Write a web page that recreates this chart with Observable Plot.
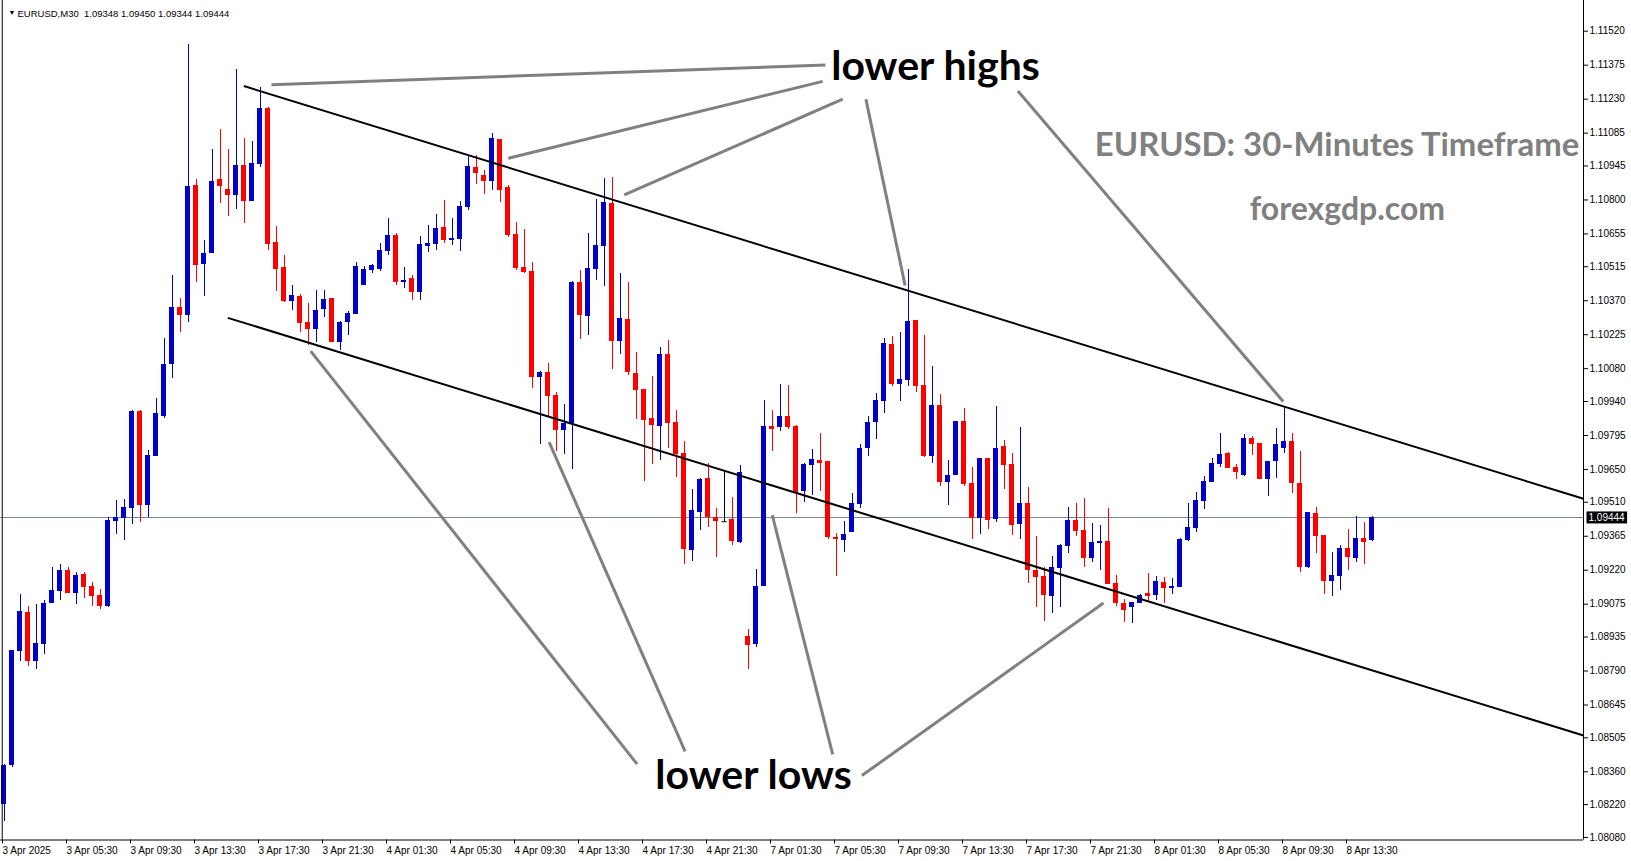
<!DOCTYPE html>
<html><head><meta charset="utf-8">
<script src="https://cdn.jsdelivr.net/npm/d3@7"></script>
<script src="https://cdn.jsdelivr.net/npm/@observablehq/plot@0.6"></script>
<style>
html,body{margin:0;padding:0;background:#fff;}
#chart{width:1631px;height:861px;overflow:hidden;}
</style></head><body><div id="chart"></div>
<script>
const symbol = "EURUSD,M30";
const open = [1.08219,1.08388,1.08874,1.09040,1.08830,1.08905,1.09076,1.09131,1.09218,1.09122,1.09202,1.09150,1.09112,1.09066,1.09430,1.09442,1.09485,1.09898,1.09496,1.09706,1.09876,1.10096,1.10341,1.10308,1.10862,1.10526,1.10573,1.10887,1.10845,1.10820,1.10947,1.10795,1.10953,1.11190,1.10618,1.10512,1.10368,1.10388,1.10277,1.10246,1.10334,1.10379,1.10193,1.10275,1.10312,1.10433,1.10500,1.10504,1.10582,1.10650,1.10446,1.10466,1.10403,1.10603,1.10612,1.10683,1.10629,1.10633,1.10766,1.10939,1.10905,1.10877,1.11059,1.10855,1.10653,1.10512,1.10495,1.10041,1.10064,1.09966,1.09818,1.09848,1.10448,1.10304,1.10505,1.10603,1.10785,1.10197,1.10290,1.10060,1.09991,1.09867,1.09835,1.10141,1.09851,1.09718,1.09306,1.09468,1.09612,1.09445,1.09427,1.09437,1.09340,1.08936,1.08905,1.09152,1.09834,1.09831,1.09876,1.09834,1.09554,1.09669,1.09689,1.09684,1.09361,1.09349,1.09383,1.09502,1.09741,1.09852,1.09941,1.10183,1.10014,1.10031,1.10286,1.10008,1.09704,1.09923,1.09596,1.09626,1.09855,1.09590,1.09441,1.09697,1.09437,1.09748,1.09671,1.09417,1.09505,1.09221,1.09194,1.09110,1.09229,1.09323,1.09433,1.09390,1.09272,1.09336,1.09343,1.09164,1.09078,1.09063,1.09080,1.09121,1.09113,1.09168,1.09140,1.09148,1.09347,1.09400,1.09515,1.09596,1.09673,1.09719,1.09659,1.09626,1.09783,1.09761,1.09609,1.09682,1.09741,1.09770,1.09590,1.09233,1.09462,1.09369,1.09174,1.09195,1.09313,1.09272,1.09356,1.09348];
const high = [1.08392,1.08877,1.09117,1.09065,1.09073,1.09090,1.09232,1.09245,1.09232,1.09209,1.09210,1.09168,1.09138,1.09444,1.09518,1.09521,1.09902,1.09902,1.09731,1.09952,1.10209,1.10477,1.10380,1.11463,1.10887,1.10627,1.11015,1.11101,1.11015,1.11357,1.11064,1.11049,1.11278,1.11193,1.10687,1.10563,1.10435,1.10395,1.10358,1.10414,1.10414,1.10379,1.10283,1.10322,1.10535,1.10518,1.10525,1.10615,1.10722,1.10655,1.10511,1.10478,1.10645,1.10692,1.10739,1.10798,1.10722,1.10794,1.10990,1.10990,1.10926,1.11084,1.11059,1.10862,1.10704,1.10674,1.10533,1.10068,1.10102,1.09978,1.09927,1.10452,1.10499,1.10657,1.10802,1.10892,1.10896,1.10486,1.10448,1.10149,1.09991,1.10048,1.10170,1.10200,1.09902,1.09770,1.09565,1.09612,1.09676,1.09484,1.09646,1.09531,1.09667,1.08968,1.09224,1.09943,1.09902,1.10013,1.10009,1.09838,1.09677,1.09736,1.09804,1.09684,1.09377,1.09430,1.09548,1.09757,1.09876,1.09974,1.10209,1.10217,1.10234,1.10503,1.10286,1.10222,1.10089,1.09970,1.09688,1.09855,1.09910,1.09658,1.09697,1.09697,1.09919,1.09774,1.09718,1.09829,1.09573,1.09364,1.09233,1.09279,1.09330,1.09488,1.09505,1.09526,1.09420,1.09411,1.09484,1.09198,1.09096,1.09083,1.09117,1.09206,1.09194,1.09189,1.09185,1.09356,1.09505,1.09552,1.09620,1.09697,1.09804,1.09723,1.09672,1.09800,1.09791,1.09761,1.09684,1.09825,1.09915,1.09804,1.09727,1.09467,1.09488,1.09369,1.09296,1.09326,1.09394,1.09450,1.09424,1.09450];
const low = [1.08150,1.08377,1.08830,1.08811,1.08795,1.08861,1.09076,1.09092,1.09119,1.09074,1.09100,1.09066,1.09054,1.09062,1.09374,1.09349,1.09417,1.09425,1.09445,1.09706,1.09868,1.10039,1.10235,1.10278,1.10449,1.10389,1.10573,1.10786,1.10731,1.10761,1.10701,1.10795,1.10940,1.10584,1.10411,1.10364,1.10328,1.10236,1.10179,1.10193,1.10300,1.10193,1.10158,1.10222,1.10312,1.10433,1.10485,1.10495,1.10564,1.10436,1.10424,1.10369,1.10369,1.10574,1.10585,1.10616,1.10606,1.10578,1.10756,1.10868,1.10825,1.10842,1.10787,1.10638,1.10499,1.10485,1.09997,1.09755,1.09877,1.09728,1.09715,1.09648,1.10206,1.10223,1.10458,1.10432,1.10078,1.10142,1.10052,1.09865,1.09600,1.09673,1.09690,1.09741,1.09617,1.09246,1.09259,1.09391,1.09404,1.09276,1.09422,1.09327,1.09336,1.08798,1.08892,1.09152,1.09728,1.09814,1.09822,1.09464,1.09511,1.09541,1.09558,1.09353,1.09195,1.09297,1.09380,1.09482,1.09707,1.09779,1.09890,1.10005,1.09941,1.10005,1.09980,1.09701,1.09675,1.09579,1.09498,1.09626,1.09579,1.09353,1.09374,1.09395,1.09425,1.09566,1.09370,1.09353,1.09165,1.09059,1.09003,1.09037,1.09063,1.09293,1.09366,1.09233,1.09251,1.09221,1.09161,1.09067,1.08996,1.08992,1.09076,1.09088,1.09093,1.09076,1.09118,1.09148,1.09343,1.09379,1.09481,1.09596,1.09660,1.09652,1.09609,1.09622,1.09711,1.09609,1.09536,1.09613,1.09720,1.09549,1.09212,1.09229,1.09293,1.09118,1.09110,1.09135,1.09221,1.09255,1.09246,1.09344];
const close = [1.08385,1.08877,1.09044,1.08830,1.08907,1.09079,1.09133,1.09218,1.09122,1.09198,1.09147,1.09106,1.09066,1.09433,1.09444,1.09488,1.09898,1.09496,1.09709,1.09889,1.10097,1.10341,1.10305,1.10857,1.10522,1.10571,1.10879,1.10859,1.10820,1.10947,1.10795,1.10956,1.11190,1.10611,1.10505,1.10368,1.10392,1.10274,1.10246,1.10328,1.10375,1.10193,1.10278,1.10315,1.10517,1.10504,1.10521,1.10585,1.10649,1.10446,1.10457,1.10403,1.10611,1.10615,1.10679,1.10629,1.10636,1.10773,1.10943,1.10911,1.10877,1.11063,1.10842,1.10650,1.10509,1.10492,1.10044,1.10064,1.09963,1.09818,1.09848,1.10448,1.10308,1.10508,1.10606,1.10789,1.10197,1.10294,1.10065,1.09988,1.09859,1.09838,1.10141,1.09848,1.09712,1.09308,1.09475,1.09608,1.09445,1.09430,1.09427,1.09344,1.09636,1.08901,1.09151,1.09834,1.09822,1.09876,1.09831,1.09549,1.09673,1.09693,1.09677,1.09359,1.09353,1.09373,1.09505,1.09740,1.09850,1.09944,1.10188,1.10014,1.10034,1.10281,1.10005,1.09704,1.09923,1.09596,1.09624,1.09855,1.09587,1.09441,1.09697,1.09434,1.09740,1.09668,1.09412,1.09505,1.09221,1.09191,1.09114,1.09231,1.09326,1.09433,1.09387,1.09272,1.09339,1.09343,1.09161,1.09076,1.09050,1.09083,1.09113,1.09110,1.09172,1.09140,1.09151,1.09352,1.09403,1.09518,1.09599,1.09676,1.09714,1.09656,1.09635,1.09783,1.09758,1.09609,1.09684,1.09757,1.09770,1.09588,1.09233,1.09467,1.09366,1.09174,1.09198,1.09313,1.09276,1.09356,1.09340,1.09444];

const xTickLabels = ["3 Apr 2025","3 Apr 05:30","3 Apr 09:30","3 Apr 13:30","3 Apr 17:30","3 Apr 21:30","4 Apr 01:30","4 Apr 05:30","4 Apr 09:30","4 Apr 13:30","4 Apr 17:30","4 Apr 21:30","7 Apr 01:30","7 Apr 05:30","7 Apr 09:30","7 Apr 13:30","7 Apr 17:30","7 Apr 21:30","8 Apr 01:30","8 Apr 05:30","8 Apr 09:30","8 Apr 13:30"];
const barsPerLabel = 8;
const yTickValues = [1.11520,1.11375,1.11230,1.11085,1.10945,1.10800,1.10655,1.10515,1.10370,1.10225,1.10080,1.09940,1.09795,1.09650,1.09510,1.09365,1.09220,1.09075,1.08935,1.08790,1.08645,1.08505,1.08360,1.08220,1.08080];

// channel trend lines (bar index, price)
const trendLines = [
  {x1:30.04, y1:1.11286, x2:197.5, y2:1.09525},
  {x1:28.04, y1:1.10297, x2:197.5, y2:1.08515}
];
// grey pointer lines (bar index, price)
const pointerLines = [
  {x1:33.5, y1:1.11292, x2:102.75, y2:1.11376},
  {x1:63.1, y1:1.10978, x2:102.4, y2:1.11306},
  {x1:77.6, y1:1.10822, x2:104.9, y2:1.11230},
  {x1:107.8, y1:1.11230, x2:112.7, y2:1.10435},
  {x1:126.8, y1:1.11265, x2:159.96, y2:1.09940},
  {x1:38.4, y1:1.10155, x2:79.2, y2:1.08393},
  {x1:68.2, y1:1.09767, x2:85.2, y2:1.08447},
  {x1:96.1, y1:1.09455, x2:103.65, y2:1.08434},
  {x1:137.5, y1:1.09080, x2:107.3, y2:1.08344}
];
const blackLabels = [
  {x:116.5, y:1.11367, text:"lower highs"},
  {x:93.75, y:1.08344, text:"lower lows"}
];
const greyLabels = [
  {x:166.7, y:1.11034, text:"EURUSD: 30-Minutes Timeframe", size:32.9},
  {x:168, y:1.10760, text:"forexgdp.com", size:32}
];

const candles = open.map((o,i)=>({i, o, h:high[i], l:low[i], c:close[i]}));
const UP = "#0000CD", DOWN = "#FF0000", FLAT = "#000000";
const col = d => d.c > d.o ? UP : d.c < d.o ? DOWN : FLAT;
const last = candles[candles.length-1];
const fmt = v => v.toFixed(5);
const headerText = `${symbol}  ${fmt(last.o)} ${fmt(last.h)} ${fmt(last.l)} ${fmt(last.c)}`;
const xTicks = xTickLabels.map((_,k)=>k*barsPerLabel);

const chart = Plot.plot({
  width: 1631, height: 861,
  marginLeft: 0, marginRight: 48, marginTop: 0, marginBottom: 21.5,
  style: {fontFamily: "'Liberation Sans', Arial, sans-serif", fontSize: "10px", background: "#fff", color: "#000"},
  x: {type: "linear", domain: [-0.375, 197.5], axis: null},
  y: {type: "linear", domain: [1.08069, 1.11651], axis: null},
  marks: [
    Plot.ruleY([last.c], {stroke: "#778899", strokeWidth: 1, shapeRendering: "crispEdges"}),
    Plot.ruleX(candles, {x: "i", y1: "l", y2: "h", stroke: col, strokeWidth: 1, dx: 0.5, shapeRendering: "crispEdges"}),
    Plot.rect(candles.filter(d=>d.o!==d.c), {x1: d=>d.i-0.25, x2: d=>d.i+0.375, y1: "o", y2: "c", fill: col, shapeRendering: "crispEdges"}),
    Plot.link(candles.filter(d=>d.o===d.c), {x1: d=>d.i-0.25, x2: d=>d.i+0.375, y1: "o", y2: "c", stroke: FLAT, strokeWidth: 1}),
    Plot.link(trendLines, {x1:"x1", y1:"y1", x2:"x2", y2:"y2", stroke: "#000", strokeWidth: 2}),
    Plot.link(pointerLines, {x1:"x1", y1:"y1", x2:"x2", y2:"y2", stroke: "#808080", strokeWidth: 3}),
    Plot.text(blackLabels, {x:"x", y:"y", text:"text", fontSize: 41, fontWeight: "bold", fontFamily: "Lato, sans-serif", fill: "#000"}),
    Plot.text(greyLabels.slice(0,1), {x:"x", y:"y", text:"text", fontSize: greyLabels[0].size, fontWeight: "bold", fontFamily: "Lato, sans-serif", fill: "#808080"}),
    Plot.text(greyLabels.slice(1), {x:"x", y:"y", text:"text", fontSize: greyLabels[1].size, fontWeight: "bold", fontFamily: "Lato, sans-serif", fill: "#808080"}),
    Plot.ruleX([-0.16], {stroke: "#000", strokeWidth: 1}),
    Plot.ruleX([197.5], {stroke: "#000", strokeWidth: 1}),
    Plot.ruleY([1.08069], {stroke: "#000", strokeWidth: 1}),
    Plot.axisY(yTickValues, {anchor: "right", tickSize: 4, tickPadding: 2, tickFormat: fmt, fontSize: 10, label: null, stroke: "#000", fill: "#000"}),
    Plot.axisX(xTicks, {anchor: "bottom", tickSize: 4, tickPadding: 3, tickFormat: d => xTickLabels[d/barsPerLabel], textAnchor: "start", dx: -1, fontSize: 10, label: null, stroke: "#000", fill: "#000"}),
    Plot.text(["\u25BC"], {frameAnchor: "top-left", dx: 8, dy: 10, fontSize: 7, fill: "#000"}),
    Plot.text([headerText], {frameAnchor: "top-left", dx: 17, dy: 10, fontSize: 9.5, textAnchor: "start", fill: "#000"}),
    Plot.text([last.c], {frameAnchor: "right", y: d => d, text: fmt, dx: 5, textAnchor: "start", fontSize: 10, fill: "#fff", className: "price-tag"})
  ]
});
document.getElementById("chart").appendChild(chart);
d3.select(chart).selectAll("g.price-tag text").each(function() {
  const bb = this.getBBox();
  const t = d3.select(this);
  d3.select(this.parentNode).insert("rect", "text")
    .attr("x", bb.x - 2).attr("y", bb.y - 0.5).attr("width", bb.width + 4).attr("height", bb.height + 1)
    .attr("transform", t.attr("transform"))
    .attr("fill", "#000");
  // apply the same x/y offsets the text uses, if any
  if (t.attr("x") != null) d3.select(this.parentNode).select("rect").attr("x", bb.x - 2);
});
</script></body></html>
